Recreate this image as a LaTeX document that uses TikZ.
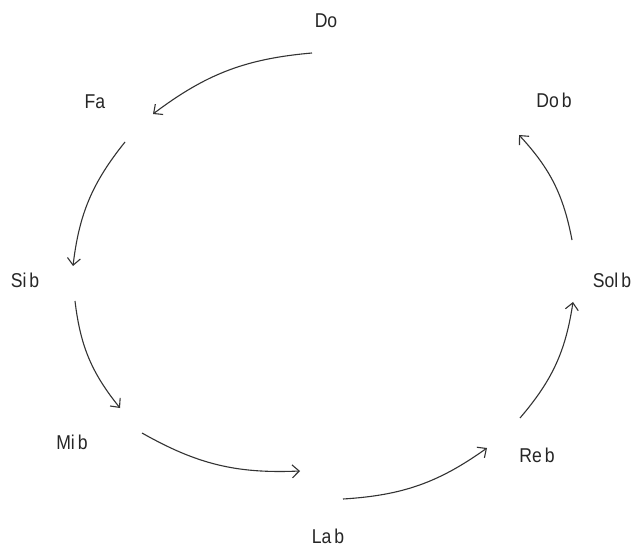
\documentclass[tikz,border=0pt]{standalone}
\usepackage{fontspec}
\newfontfamily\lblfont[FakeStretch=0.88]{Liberation Sans}
\usetikzlibrary{arrows.meta}
\begin{document}
\begin{tikzpicture}[x=1pt,y=-1pt,
  lbl/.style={font=\lblfont\fontsize{20}{22}\selectfont, inner sep=0pt, text=black!85},
  arr/.style={-{Straight Barb[length=7pt,width=13pt,line width=1.1pt]}, line width=1.1pt, black!80}]
\useasboundingbox[fill=white] (0,0) rectangle (635,548);
% labels
\node[lbl] (Do)   at (326,21)  {Do};
\node[lbl] (Fa)   at (95,102)  {Fa};
\node[lbl] (Sib)  at (25,280)  {Si\kern3pt b};
\node[lbl] (Mib)  at (72,442)  {Mi\kern3pt b};
\node[lbl] (Lab)  at (328,536) {La\kern3pt b};
\node[lbl] (Reb)  at (537,455) {Re\kern3pt b};
\node[lbl] (Solb) at (612,280) {Sol\kern3pt b};
\node[lbl] (Dob)  at (554,100) {Do\kern3pt b};
% connector end points
\coordinate (DoOut)   at (312,53);
\coordinate (FaIn)    at (153,114);
\coordinate (FaOut)   at (125,142);
\coordinate (SibIn)   at (73,266);
\coordinate (SibOut)  at (75,301);
\coordinate (MibIn)   at (120,408);
\coordinate (MibOut)  at (142,433);
\coordinate (LabIn)   at (300,471);
\coordinate (LabOut)  at (343,499);
\coordinate (RebIn)   at (487,448);
\coordinate (RebOut)  at (520,418);
\coordinate (SolbIn)  at (573,302);
\coordinate (SolbOut) at (572,240);
\coordinate (DobIn)   at (519,135);
% connectors
\draw[arr] (DoOut)   to[bend right=16] (FaIn);
\draw[arr] (FaOut)   to[bend right=16] (SibIn);
\draw[arr] (SibOut)  to[bend right=16] (MibIn);
\draw[arr] (MibOut)  to[bend right=16] (LabIn);
\draw[arr] (LabOut)  to[bend right=16] (RebIn);
\draw[arr] (RebOut)  to[bend right=16] (SolbIn);
\draw[arr] (SolbOut) to[bend right=16] (DobIn);
\end{tikzpicture}
\end{document}
